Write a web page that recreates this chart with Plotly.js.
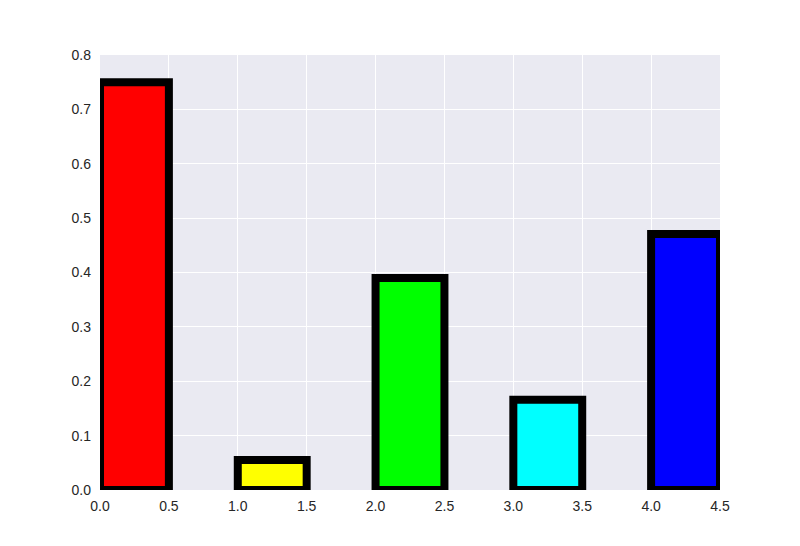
<!DOCTYPE html>
<html>
<head>
<meta charset="utf-8">
<script src="https://cdn.plot.ly/plotly-3.0.1.min.js"></script>
<style>html,body{margin:0;padding:0;background:#fff;}</style>
</head>
<body>
<div id="chart" style="width:800px;height:546px;"></div>
<script>
const positions = [0, 1, 2, 3, 4];
const values = [0.75, 0.055, 0.39, 0.166, 0.471];
const barColors = ['#ff0000', '#ffff00', '#00ff00', '#00ffff', '#0000ff'];
const xTicks = [0, 0.5, 1, 1.5, 2, 2.5, 3, 3.5, 4, 4.5];
const yTicks = [0, 0.1, 0.2, 0.3, 0.4, 0.5, 0.6, 0.7, 0.8];

const trace = {
  type: 'bar',
  x: positions,
  y: values,
  width: 0.5,
  offset: 0,
  marker: { color: barColors, line: { color: '#000000', width: 8 } },
  hoverinfo: 'x+y'
};

const layout = {
  width: 800,
  height: 546,
  margin: { l: 100, r: 80, t: 55, b: 56 },
  paper_bgcolor: '#ffffff',
  plot_bgcolor: '#eaeaf2',
  showlegend: false,
  font: { family: 'Liberation Sans, Arial, sans-serif', size: 14, color: '#262626' },
  xaxis: {
    range: [0, 4.5],
    tickvals: xTicks,
    ticktext: xTicks.map(v => v.toFixed(1)),
    showgrid: true, gridcolor: '#ffffff', gridwidth: 1,
    zeroline: false, showline: false, ticks: '',
    ticklabelstandoff: 6
  },
  yaxis: {
    range: [0, 0.8],
    tickvals: yTicks,
    ticktext: yTicks.map(v => v.toFixed(1)),
    showgrid: true, gridcolor: '#ffffff', gridwidth: 1,
    zeroline: false, showline: false, ticks: '',
    ticklabelstandoff: 8
  }
};

Plotly.newPlot('chart', [trace], layout, { displayModeBar: false, staticPlot: true });
</script>
</body>
</html>
